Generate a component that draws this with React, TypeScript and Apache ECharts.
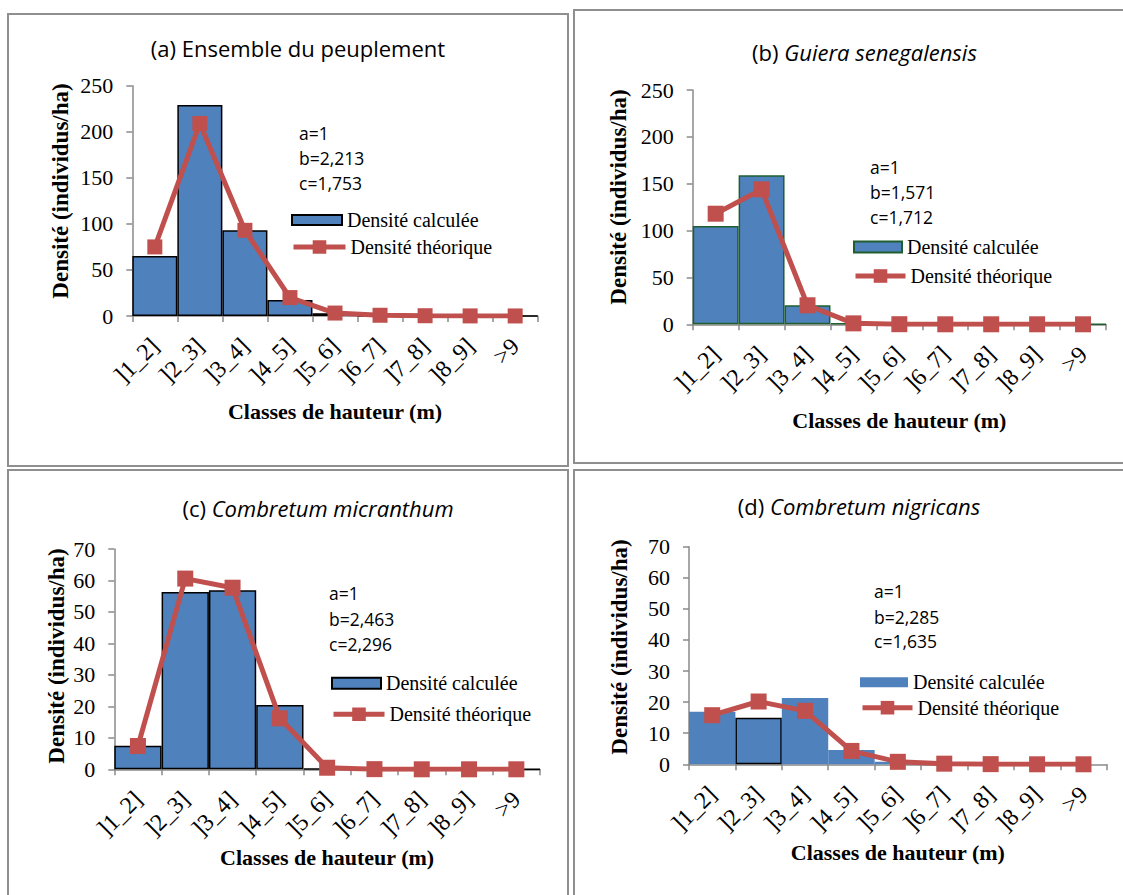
import React, { useEffect, useRef } from 'react';
import * as echarts from 'echarts';

// ---------- data ----------
const categories = [']1_2]', ']2_3]', ']3_4]', ']4_5]', ']5_6]', ']6_7]', ']7_8]', ']8_9]', '>9'];

const calcA = [65, 229, 93, 17.5, 3, 0, 0, 0, 0];
const theoA = [75, 209, 93, 20, 3.2, 0.8, 0.3, 0.1, 0.05];
const paramsA = ['a=1', 'b=2,213', 'c=1,753'];

const calcB = [105, 159, 20.3, 1, 0, 0, 0, 0, 0];
const theoB = [118, 144, 20.3, 1, 0.1, 0, 0, 0, 0];
const paramsB = ['a=1', 'b=1,571', 'c=1,712'];

const calcC = [7.5, 56.3, 56.9, 20.4, 0.2, 0, 0, 0, 0];
const theoC = [7.4, 60.6, 57.7, 16.2, 0.5, 0.05, 0, 0, 0];
const paramsC = ['a=1', 'b=2,463', 'c=2,296'];

const calcD = [16.9, 15, 21.3, 4.6, 0.8, 0, 0, 0, 0];
const theoD = [15.8, 20.2, 17.2, 4.3, 0.8, 0.2, 0.05, 0, 0];
const paramsD = ['a=1', 'b=2,285', 'c=1,635'];

const titleLabels = ['(a) ', '(b) ', '(c) ', '(d) '];
const titleTexts = ['Ensemble du peuplement', 'Guiera senegalensis', 'Combretum micranthum', 'Combretum nigricans'];
const calcName = 'Densité calculée';
const theoName = 'Densité théorique';
const xName = 'Classes de hauteur (m)';
const yName = 'Densité (individus/ha)';

// ---------- styles / layout ----------
const SERIF = '"Liberation Serif", "Times New Roman", serif';
const SANS = '"Open Sans", Calibri, sans-serif';
const BAR = '#4F81BD';
const LINE = '#C0504D';
const AXIS = '#8a8a8a';
const FRAME = '#8f8f8f';
const LINE_W = 5;

const layouts = [
  {
    calc: calcA, theo: theoA, params: paramsA, italic: false, yMax: 250, yInt: 50,
    grid: { left: 132.3, top: 85.7, width: 405.4, height: 230.3 },
    titleX: 298, titleY: 48, yNameX: 60, yNameY: 191, xNameGap: 84,
    annX: 299, annY: [133, 157.5, 182.5],
    legX: 291, legBarY: 220, legLineY: 247, legW: 50, legH: 10,
    border: '#000', borderW: 1.5, sym: 15,
    frame: { x: 8, y: 14, width: 560, height: 452 },
  },
  {
    calc: calcB, theo: theoB, params: paramsB, italic: true, yMax: 250, yInt: 50,
    grid: { left: 692.7, top: 90, width: 413.3, height: 234.3 },
    titleX: 864.5, titleY: 51.7, yNameX: 618, yNameY: 197, xNameGap: 85,
    annX: 870, annY: [166.7, 191.7, 216.7],
    legX: 853, legBarY: 247, legLineY: 276, legW: 48, legH: 11,
    border: '#1f5f2f', borderW: 1.5, sym: 16,
    frame: { x: 574, y: 10, width: 560, height: 453 },
  },
  {
    calc: calcC, theo: theoC, params: paramsC, italic: true, yMax: 70, yInt: 10,
    grid: { left: 114.3, top: 549, width: 425.7, height: 220.3 },
    titleX: 318, titleY: 508.3, yNameX: 56, yNameY: 656, xNameGap: 77,
    annX: 329, annY: [593.3, 619, 644.3],
    legX: 331, legBarY: 683.3, legLineY: 714.3, legW: 49, legH: 11,
    border: '#000', borderW: 1.5, sym: 16,
    frame: { x: 8, y: 470, width: 560, height: 460 },
  },
  {
    calc: calcD, theo: theoD, params: paramsD, italic: true, yMax: 70, yInt: 10,
    grid: { left: 689, top: 546.7, width: 417.7, height: 217.6 },
    titleX: 859, titleY: 506, yNameX: 619, yNameY: 647, xNameGap: 77,
    annX: 874, annY: [591, 616.7, 641],
    legX: 860, legBarY: 682.3, legLineY: 707.7, legW: 48, legH: 10,
    border: 'transparent', borderW: 0, sym: 16,
    frame: { x: 574, y: 470, width: 560, height: 460 },
  },
];

export default function App() {
  const ref = useRef<HTMLDivElement>(null);

  useEffect(() => {
    if (!ref.current) return;
    const chart = echarts.init(ref.current, undefined, { renderer: 'svg' });

    const grids: any[] = [];
    const xAxes: any[] = [];
    const yAxes: any[] = [];
    const series: any[] = [];
    const legends: any[] = [];
    const graphics: any[] = [];

    layouts.forEach((p, i) => {
      grids.push({ ...p.grid, containLabel: false });
      xAxes.push({
        type: 'category',
        gridIndex: i,
        data: categories,
        boundaryGap: true,
        name: xName,
        nameLocation: 'middle',
        nameGap: p.xNameGap,
        nameTextStyle: { fontFamily: SERIF, fontSize: 22, fontWeight: 'bold', color: '#000' },
        axisLine: { lineStyle: { color: AXIS, width: 1.5 } },
        axisTick: { show: true, length: 6, lineStyle: { color: AXIS, width: 1.5 } },
        axisLabel: { rotate: 45, margin: 26, interval: 0, fontFamily: SERIF, fontSize: 24, color: '#000' },
        splitLine: { show: false },
      });
      yAxes.push({
        type: 'value',
        gridIndex: i,
        min: 0,
        max: p.yMax,
        interval: p.yInt,
        axisLine: { show: true, lineStyle: { color: AXIS, width: 1.5 } },
        axisTick: { show: true, length: 6, lineStyle: { color: AXIS, width: 1.5 } },
        axisLabel: { margin: 19, fontFamily: SERIF, fontSize: 22, color: '#000' },
        splitLine: { show: false },
      });
      const calcData = p.calc.map((v, j) =>
        i === 3 && j === 1
          ? { value: v, itemStyle: { borderColor: '#000', borderWidth: 1.5 } }
          : v
      );
      series.push({
        type: 'bar',
        name: 'calc_' + i,
        xAxisIndex: i,
        yAxisIndex: i,
        data: calcData,
        barCategoryGap: '0%',
        itemStyle: { color: BAR, borderColor: p.border, borderWidth: p.borderW },
        z: 2,
      });
      series.push({
        type: 'line',
        name: 'theo_' + i,
        xAxisIndex: i,
        yAxisIndex: i,
        data: p.theo,
        symbol: 'rect',
        symbolSize: p.sym,
        lineStyle: { color: LINE, width: LINE_W },
        itemStyle: { color: LINE },
        z: 3,
      });
      const legText = { fontFamily: SERIF, fontSize: 20, color: '#000' };
      legends.push({
        left: p.legX,
        top: p.legBarY - 10,
        padding: 0,
        icon: 'rect',
        itemWidth: p.legW,
        itemHeight: p.legH,
        selectedMode: false,
        data: ['calc_' + i],
        formatter: () => calcName,
        textStyle: legText,
      });
      legends.push({
        left: p.legX,
        top: p.legLineY - 10,
        padding: 0,
        itemWidth: p.legW + 2,
        itemHeight: 17,
        selectedMode: false,
        data: ['theo_' + i],
        formatter: () => theoName,
        lineStyle: { color: LINE, width: LINE_W },
        textStyle: legText,
      });

      graphics.push({
        type: 'rect',
        shape: p.frame,
        style: { fill: 'none', stroke: FRAME, lineWidth: 2 },
        silent: true,
        z: 0,
      });
      graphics.push({
        type: 'text',
        x: p.titleX,
        y: p.titleY,
        style: {
          text: '{n|' + titleLabels[i] + '}{' + (p.italic ? 'it' : 'n') + '|' + titleTexts[i] + '}',
          align: 'center',
          verticalAlign: 'middle',
          rich: {
            n: { fontFamily: SANS, fontSize: 22, fill: '#000' },
            it: { fontFamily: SANS, fontSize: 22, fontStyle: 'italic', fill: '#000' },
          },
        },
      });
      graphics.push({
        type: 'text',
        x: p.yNameX,
        y: p.yNameY,
        rotation: Math.PI / 2,
        style: {
          text: yName,
          align: 'center',
          verticalAlign: 'middle',
          fontFamily: SERIF,
          fontSize: 23,
          fontWeight: 'bold',
          fill: '#000',
        },
      });
      p.params.forEach((t, k) => {
        graphics.push({
          type: 'text',
          x: p.annX,
          y: p.annY[k],
          style: {
            text: t,
            align: 'left',
            verticalAlign: 'middle',
            fontFamily: SANS,
            fontSize: 17.5,
            fill: '#000',
          },
        });
      });
    });

    chart.setOption({
      animation: false,
      backgroundColor: '#ffffff',
      grid: grids,
      xAxis: xAxes,
      yAxis: yAxes,
      legend: legends,
      series,
      graphic: graphics,
    });

    return () => chart.dispose();
  }, []);

  return (
    <div
      ref={ref}
      style={{ position: 'fixed', left: 0, top: 0, width: 1123, height: 895, background: '#fff' }}
    />
  );
}
